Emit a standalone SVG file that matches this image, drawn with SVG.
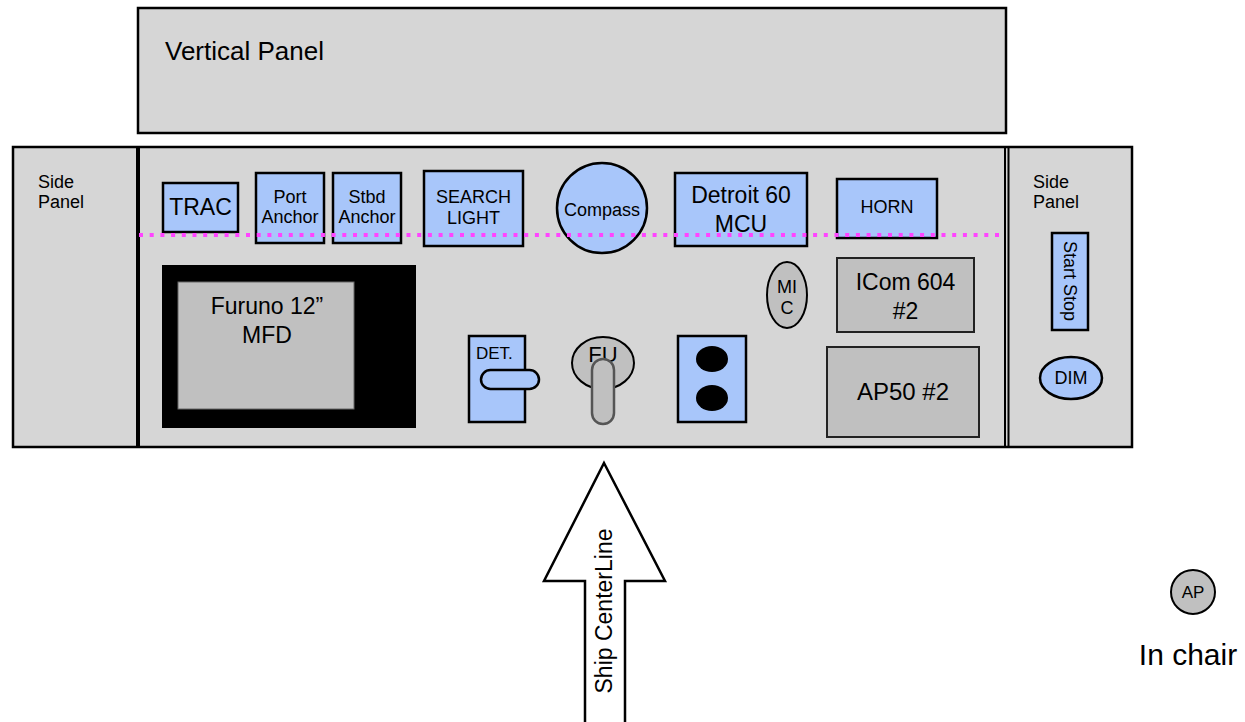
<svg xmlns="http://www.w3.org/2000/svg" width="1245" height="722" viewBox="0 0 1245 722">
<style>
text{font-family:"Liberation Sans",Arial,sans-serif;fill:#000;}
.panel{fill:#d6d6d6;stroke:#000;stroke-width:2.5;}
.blue{fill:#a8c6fa;stroke:#000;stroke-width:2.5;}
.gray{fill:#c0c0c0;stroke:#222;stroke-width:2;}
.c{text-anchor:middle;}
</style>
<rect width="1245" height="722" fill="#fff"/>
<g id="vertical-panel">
<rect class="panel" x="138" y="8" width="868" height="125"/>
<text x="165" y="60" font-size="26">Vertical Panel</text>
</g>
<g id="main-panel">
<rect class="panel" x="13" y="147" width="1119" height="300"/>
<line x1="138" y1="147" x2="138" y2="447" stroke="#000" stroke-width="4"/>
<line x1="1005" y1="147" x2="1005" y2="447" stroke="#000" stroke-width="2"/>
<line x1="1008.5" y1="147" x2="1008.5" y2="447" stroke="#000" stroke-width="2"/>
</g>
<g id="side-panel-left">
<text x="38" y="188" font-size="18">Side</text>
<text x="38" y="208" font-size="18">Panel</text>
</g>
<g id="side-panel-right">
<text x="1033" y="188" font-size="18">Side</text>
<text x="1033" y="208" font-size="18">Panel</text>
</g>
<g id="trac">
<rect class="blue" x="163" y="183" width="75" height="49"/>
<text class="c" x="200.5" y="215" font-size="23">TRAC</text>
</g>
<g id="port-anchor">
<rect class="blue" x="256" y="173" width="68" height="70"/>
<text class="c" x="290" y="203" font-size="18">Port</text>
<text class="c" x="290" y="223" font-size="18">Anchor</text>
</g>
<g id="stbd-anchor">
<rect class="blue" x="333" y="173" width="68" height="70"/>
<text class="c" x="367" y="203" font-size="18">Stbd</text>
<text class="c" x="367" y="223" font-size="18">Anchor</text>
</g>
<g id="search-light">
<rect class="blue" x="424" y="171" width="99" height="75"/>
<text class="c" x="473.5" y="203" font-size="18">SEARCH</text>
<text class="c" x="473.5" y="224" font-size="18">LIGHT</text>
</g>
<g id="compass">
<circle class="blue" cx="602" cy="208" r="45"/>
<text class="c" x="602" y="216" font-size="18">Compass</text>
</g>
<g id="detroit">
<rect class="blue" x="675" y="173" width="132" height="73"/>
<text class="c" x="741" y="203" font-size="23">Detroit 60</text>
<text class="c" x="741" y="232" font-size="23">MCU</text>
</g>
<g id="horn">
<rect class="blue" x="837" y="179" width="100" height="59"/>
<text class="c" x="887" y="213" font-size="18">HORN</text>
</g>
<g id="connectors">
<line x1="139" y1="235" x2="1005" y2="235" stroke="#ff44ff" stroke-width="4" stroke-dasharray="4 6.7"/>
</g>
<g id="furuno">
<rect x="162" y="265" width="254" height="163" fill="#000"/>
<rect x="178" y="282" width="176" height="127" fill="#c0c0c0" stroke="#666" stroke-width="1"/>
<text class="c" x="267" y="314" font-size="23">Furuno 12”</text>
<text class="c" x="267" y="343" font-size="23">MFD</text>
</g>
<g id="mic">
<ellipse class="gray" cx="787" cy="295" rx="20" ry="33" style="stroke:#000"/>
<text class="c" x="787" y="293" font-size="18">MI</text>
<text class="c" x="787" y="314" font-size="18">C</text>
</g>
<g id="icom">
<rect class="gray" x="837" y="258" width="137" height="74"/>
<text class="c" x="905.5" y="290" font-size="23">ICom 604</text>
<text class="c" x="905.5" y="319" font-size="23">#2</text>
</g>
<g id="ap50">
<rect class="gray" x="827" y="347" width="152" height="90"/>
<text class="c" x="903" y="400" font-size="24">AP50 #2</text>
</g>
<g id="det">
<rect class="blue" x="469" y="336" width="56" height="86"/>
<text x="476" y="359" font-size="17">DET.</text>
<rect class="blue" x="481" y="370" width="58" height="19" rx="9.5"/>
</g>
<g id="fu">
<ellipse class="gray" cx="603" cy="363" rx="31" ry="26" style="stroke:#000"/>
<text class="c" x="603" y="362" font-size="22">FU</text>
<rect x="592" y="359" width="22" height="65" rx="11" fill="#c0c0c0" stroke="#555" stroke-width="2.5"/>
</g>
<g id="switch">
<rect class="blue" x="678" y="336" width="68" height="86"/>
<ellipse cx="712" cy="359" rx="16" ry="13" fill="#000"/>
<ellipse cx="712" cy="398" rx="16" ry="13" fill="#000"/>
</g>
<g id="start-stop">
<rect class="blue" x="1052" y="233" width="36" height="97"/>
<text class="c" transform="translate(1064 281) rotate(90)" x="0" y="0" font-size="18">Start Stop</text>
</g>
<g id="dim">
<ellipse class="blue" cx="1071" cy="378" rx="31" ry="21"/>
<text class="c" x="1071" y="384" font-size="18">DIM</text>
</g>
<g id="centerline">
<polygon points="604,463 665,581 625,581 625,724 585,724 585,581 544,581" fill="#fff" stroke="#000" stroke-width="2.5"/>
<text class="c" transform="translate(612 611) rotate(-90)" x="0" y="0" font-size="23">Ship CenterLine</text>
</g>
<g id="ap">
<circle class="gray" cx="1193" cy="592" r="22" style="stroke:#000"/>
<text class="c" x="1193" y="598" font-size="17">AP</text>
<text class="c" x="1188" y="665" font-size="30">In chair</text>
</g>
</svg>
